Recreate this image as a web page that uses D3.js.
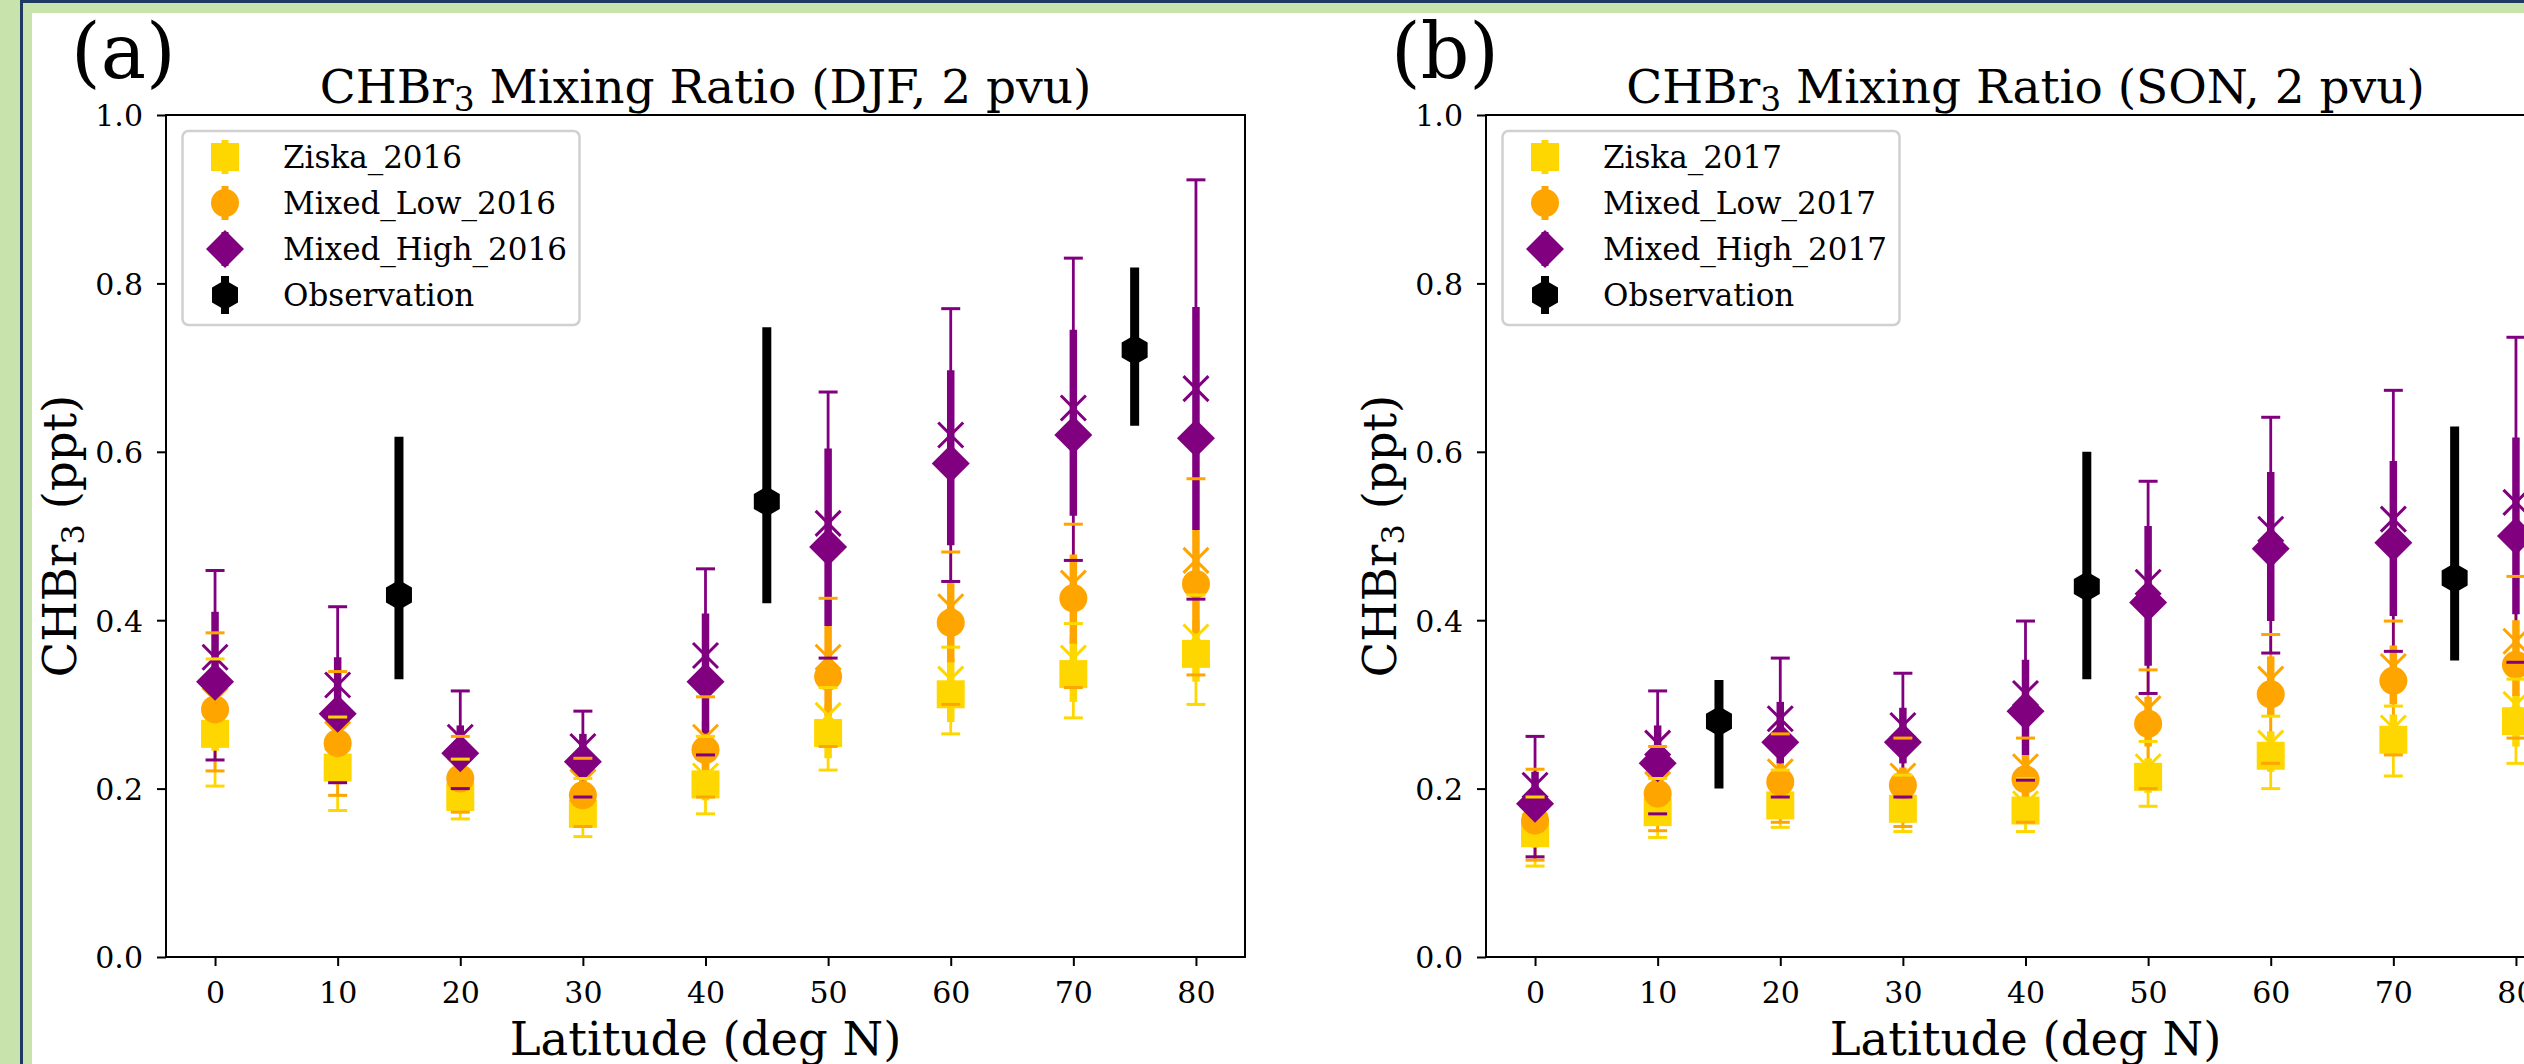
<!DOCTYPE html>
<html>
<head>
<meta charset="utf-8">
<script src="https://cdn.jsdelivr.net/npm/d3@7"></script>
<style>
  html, body { margin: 0; padding: 0; background: #ffffff; overflow: hidden; }
  svg { display: block; }
  text { font-family: "DejaVu Serif", serif; fill: #000; }
</style>
</head>
<body>
<script>
// ---------------- DATA ----------------
const latitudes = [0, 10, 20, 30, 40, 50, 60, 70, 80];
const obsLatitudes = [15, 45, 75];
const xTickValues = [0, 10, 20, 30, 40, 50, 60, 70, 80];
const yTickValues = [0.0, 0.2, 0.4, 0.6, 0.8, 1.0];
const xDomain = [-4, 84];
const yDomain = [0, 1];

const panelLabels = ["(a)", "(b)"];
const panelSeasons = ["DJF", "SON"];
const legendNamesA = ["Ziska_2016", "Mixed_Low_2016", "Mixed_High_2016", "Observation"];
const legendNamesB = ["Ziska_2017", "Mixed_Low_2017", "Mixed_High_2017", "Observation"];

// Panel (a) DJF -- Ziska_2016
const ziskaA_median = [0.265, 0.225, 0.190, 0.170, 0.205, 0.266, 0.312, 0.336, 0.360];
const ziskaA_mean   = [0.275, 0.233, 0.198, 0.178, 0.215, 0.287, 0.330, 0.355, 0.380];
const ziskaA_q1     = [0.245, 0.205, 0.176, 0.156, 0.186, 0.236, 0.279, 0.303, 0.327];
const ziskaA_q3     = [0.290, 0.250, 0.212, 0.192, 0.232, 0.300, 0.355, 0.380, 0.400];
const ziskaA_min    = [0.203, 0.174, 0.164, 0.143, 0.170, 0.222, 0.265, 0.284, 0.300];
const ziskaA_max    = [0.354, 0.285, 0.235, 0.212, 0.262, 0.320, 0.368, 0.396, 0.430];
// Panel (a) DJF -- Mixed_Low_2016
const lowA_median = [0.294, 0.254, 0.212, 0.192, 0.246, 0.333, 0.397, 0.426, 0.443];
const lowA_mean   = [0.305, 0.265, 0.222, 0.208, 0.261, 0.356, 0.416, 0.444, 0.471];
const lowA_q1     = [0.262, 0.232, 0.195, 0.176, 0.222, 0.287, 0.350, 0.372, 0.384];
const lowA_q3     = [0.330, 0.295, 0.236, 0.218, 0.280, 0.393, 0.444, 0.478, 0.507];
const lowA_min    = [0.221, 0.192, 0.172, 0.155, 0.190, 0.250, 0.300, 0.320, 0.335];
const lowA_max    = [0.385, 0.339, 0.262, 0.236, 0.309, 0.426, 0.481, 0.514, 0.568];
// Panel (a) DJF -- Mixed_High_2016
const highA_median = [0.327, 0.289, 0.242, 0.232, 0.327, 0.487, 0.586, 0.620, 0.616];
const highA_mean   = [0.356, 0.323, 0.261, 0.250, 0.358, 0.515, 0.620, 0.652, 0.675];
const highA_q1     = [0.290, 0.250, 0.222, 0.212, 0.265, 0.393, 0.489, 0.524, 0.507];
const highA_q3     = [0.410, 0.356, 0.275, 0.265, 0.408, 0.604, 0.697, 0.745, 0.772];
const highA_min    = [0.234, 0.207, 0.200, 0.190, 0.240, 0.355, 0.446, 0.471, 0.425];
const highA_max    = [0.459, 0.416, 0.316, 0.292, 0.461, 0.671, 0.770, 0.830, 0.923];
// Panel (a) DJF -- Observation
const obsA_value = [0.430, 0.541, 0.721];
const obsA_low   = [0.330, 0.420, 0.631];
const obsA_high  = [0.618, 0.748, 0.819];

// Panel (b) SON -- Ziska_2017
const ziskaB_median = [0.147, 0.172, 0.180, 0.176, 0.174, 0.214, 0.239, 0.258, 0.280];
const ziskaB_mean   = [0.156, 0.181, 0.190, 0.186, 0.182, 0.226, 0.254, 0.272, 0.300];
const ziskaB_q1     = [0.130, 0.158, 0.165, 0.160, 0.160, 0.195, 0.220, 0.240, 0.250];
const ziskaB_q3     = [0.165, 0.192, 0.200, 0.196, 0.192, 0.236, 0.268, 0.288, 0.312];
const ziskaB_min    = [0.108, 0.142, 0.154, 0.149, 0.149, 0.179, 0.200, 0.215, 0.230];
const ziskaB_max    = [0.190, 0.212, 0.222, 0.216, 0.212, 0.256, 0.286, 0.298, 0.330];
// Panel (b) SON -- Mixed_Low_2017
const lowB_median = [0.162, 0.194, 0.208, 0.204, 0.211, 0.277, 0.312, 0.328, 0.347];
const lowB_mean   = [0.172, 0.205, 0.220, 0.215, 0.226, 0.295, 0.330, 0.345, 0.375];
const lowB_q1     = [0.145, 0.175, 0.190, 0.185, 0.190, 0.250, 0.285, 0.300, 0.310];
const lowB_q3     = [0.185, 0.215, 0.230, 0.225, 0.240, 0.309, 0.357, 0.370, 0.400];
const lowB_min    = [0.115, 0.150, 0.160, 0.155, 0.160, 0.200, 0.230, 0.240, 0.260];
const lowB_max    = [0.223, 0.250, 0.265, 0.260, 0.260, 0.341, 0.383, 0.399, 0.452];
// Panel (b) SON -- Mixed_High_2017
const highB_median = [0.182, 0.230, 0.255, 0.255, 0.292, 0.421, 0.485, 0.492, 0.500];
const highB_mean   = [0.204, 0.254, 0.283, 0.275, 0.313, 0.445, 0.508, 0.520, 0.540];
const highB_q1     = [0.160, 0.205, 0.230, 0.230, 0.240, 0.346, 0.399, 0.405, 0.407];
const highB_q3     = [0.220, 0.275, 0.303, 0.296, 0.353, 0.512, 0.576, 0.589, 0.617];
const highB_min    = [0.119, 0.170, 0.190, 0.190, 0.210, 0.313, 0.361, 0.363, 0.350];
const highB_max    = [0.262, 0.316, 0.355, 0.337, 0.399, 0.565, 0.641, 0.673, 0.736];
// Panel (b) SON -- Observation
const obsB_value = [0.280, 0.440, 0.450];
const obsB_low   = [0.200, 0.330, 0.352];
const obsB_high  = [0.329, 0.600, 0.630];

// ---------------- STYLE ----------------
const W = 2524, H = 1064;
const colYellow = "#FFD700", colOrange = "#FFA500", colPurple = "#800080", colBlack = "#000000";
const frameGreen = "#c8e4ac", frameNavy = "#1f3864";
const tickFont = 30, legendFont = 31, titleFont = 47, labelFont = 46.5;

const panels = [
  { left: 166, label: panelLabels[0], season: panelSeasons[0], names: legendNamesA,
    series: [
      { color: colYellow, marker: "square",  med: ziskaA_median, mean: ziskaA_mean, q1: ziskaA_q1, q3: ziskaA_q3, lo: ziskaA_min, hi: ziskaA_max },
      { color: colOrange, marker: "circle",  med: lowA_median,  mean: lowA_mean,  q1: lowA_q1,  q3: lowA_q3,  lo: lowA_min,  hi: lowA_max },
      { color: colPurple, marker: "diamond", med: highA_median, mean: highA_mean, q1: highA_q1, q3: highA_q3, lo: highA_min, hi: highA_max }
    ],
    obs: { val: obsA_value, lo: obsA_low, hi: obsA_high } },
  { left: 1486, label: panelLabels[1], season: panelSeasons[1], names: legendNamesB,
    series: [
      { color: colYellow, marker: "square",  med: ziskaB_median, mean: ziskaB_mean, q1: ziskaB_q1, q3: ziskaB_q3, lo: ziskaB_min, hi: ziskaB_max },
      { color: colOrange, marker: "circle",  med: lowB_median,  mean: lowB_mean,  q1: lowB_q1,  q3: lowB_q3,  lo: lowB_min,  hi: lowB_max },
      { color: colPurple, marker: "diamond", med: highB_median, mean: highB_mean, q1: highB_q1, q3: highB_q3, lo: highB_min, hi: highB_max }
    ],
    obs: { val: obsB_value, lo: obsB_low, hi: obsB_high } }
];

const axW = 1079, axTop = 115, axBottom = 957;

function markerPath(type) {
  if (type === "square") { const s = 28; return `M${-s/2},${-s/2}H${s/2}V${s/2}H${-s/2}Z`; }
  if (type === "circle") { return d3.symbol(d3.symbolCircle, Math.PI * 14 * 14)(); }
  if (type === "diamond") { const w = 19, h = 19; return `M0,${-h}L${w},0L0,${h}L${-w},0Z`; }
  if (type === "hexagon") {
    const r = 15, c = Math.cos(Math.PI / 6) * r;
    return `M0,${-r}L${c},${-r/2}L${c},${r/2}L0,${r}L${-c},${r/2}L${-c},${-r/2}Z`;
  }
  if (type === "x") { const s = 12.5; return `M${-s},${-s}L${s},${s}M${s},${-s}L${-s},${s}`; }
}

const svg = d3.select("body").append("svg").attr("width", W).attr("height", H);

// frame
svg.append("rect").attr("x", 0).attr("y", 0).attr("width", W).attr("height", H).attr("fill", frameGreen);
svg.append("rect").attr("x", 20).attr("y", 0).attr("width", W - 20).attr("height", 3).attr("fill", frameNavy);
svg.append("rect").attr("x", 20).attr("y", 0).attr("width", 3).attr("height", H).attr("fill", frameNavy);
svg.append("rect").attr("x", 32).attr("y", 13).attr("width", W - 32).attr("height", H - 13).attr("fill", "#ffffff");

panels.forEach(p => {
  const x = d3.scaleLinear().domain(xDomain).range([p.left, p.left + axW]);
  const y = d3.scaleLinear().domain(yDomain).range([axBottom, axTop]);
  const g = svg.append("g");

  // Axes
  const xAxis = g.append("g").attr("transform", `translate(0,${axBottom})`)
    .call(d3.axisBottom(x).tickValues(xTickValues).tickSize(9).tickSizeOuter(0).tickFormat(d3.format("d")));
  xAxis.select(".domain").remove();
  xAxis.selectAll(".tick line").attr("stroke", "#000").attr("stroke-width", 2);
  xAxis.selectAll(".tick text").attr("y", 46).attr("dy", 0).attr("font-size", tickFont).attr("font-family", "DejaVu Serif");

  const yAxis = g.append("g").attr("transform", `translate(${p.left},0)`)
    .call(d3.axisLeft(y).tickValues(yTickValues).tickSize(9).tickPadding(14).tickSizeOuter(0).tickFormat(d3.format(".1f")));
  yAxis.select(".domain").remove();
  yAxis.selectAll(".tick line").attr("stroke", "#000").attr("stroke-width", 2);
  yAxis.selectAll(".tick text").attr("font-size", tickFont).attr("dy", "0.36em").attr("font-family", "DejaVu Serif");

  // plot layers
  const plot = g.append("g");
  const thinL = plot.append("g"), thickL = plot.append("g"), meanL = plot.append("g"),
        markL = plot.append("g"), capL = plot.append("g"), obsL = plot.append("g");

  p.series.forEach(s => {
    latitudes.forEach((lat, i) => {
      const cx = x(lat);
      thinL.append("line").attr("x1", cx).attr("x2", cx).attr("y1", y(s.lo[i])).attr("y2", y(s.hi[i]))
        .attr("stroke", s.color).attr("stroke-width", 2.8);
      thickL.append("line").attr("x1", cx).attr("x2", cx).attr("y1", y(s.q1[i])).attr("y2", y(s.q3[i]))
        .attr("stroke", s.color).attr("stroke-width", 7.5);
      meanL.append("path").attr("d", markerPath("x")).attr("transform", `translate(${cx},${y(s.mean[i])})`)
        .attr("fill", "none").attr("stroke", s.color).attr("stroke-width", 3);
      markL.append("path").attr("d", markerPath(s.marker)).attr("transform", `translate(${cx},${y(s.med[i])})`)
        .attr("fill", s.color);
      [s.lo[i], s.hi[i]].forEach(v => {
        capL.append("line").attr("x1", cx - 9.5).attr("x2", cx + 9.5).attr("y1", y(v)).attr("y2", y(v))
          .attr("stroke", s.color).attr("stroke-width", 3);
      });
    });
  });

  obsLatitudes.forEach((lat, i) => {
    const cx = x(lat);
    obsL.append("line").attr("x1", cx).attr("x2", cx).attr("y1", y(p.obs.lo[i])).attr("y2", y(p.obs.hi[i]))
      .attr("stroke", colBlack).attr("stroke-width", 9);
    obsL.append("path").attr("d", markerPath("hexagon")).attr("transform", `translate(${cx},${y(p.obs.val[i])})`)
      .attr("fill", colBlack);
  });

  // spines
  g.append("rect").attr("x", p.left).attr("y", axTop).attr("width", axW).attr("height", axBottom - axTop)
    .attr("fill", "none").attr("stroke", "#000").attr("stroke-width", 2);

  // legend
  const lg = g.append("g");
  lg.append("rect").attr("x", p.left + 16.5).attr("y", 131).attr("width", 397).attr("height", 194)
    .attr("rx", 6).attr("fill", "#fff").attr("fill-opacity", 0.85).attr("stroke", "#d0d0d0").attr("stroke-width", 2.5);
  const legendMarkers = ["square", "circle", "diamond", "hexagon"];
  const legendColors = [colYellow, colOrange, colPurple, colBlack];
  const rowY = d3.scaleLinear().domain([0, 3]).range([157, 295]);
  p.names.forEach((name, k) => {
    const ly = rowY(k), lx = p.left + 59;
    if (k === 3) {
      lg.append("line").attr("x1", lx).attr("x2", lx).attr("y1", ly - 19).attr("y2", ly + 19)
        .attr("stroke", legendColors[k]).attr("stroke-width", 8);
    } else {
      lg.append("line").attr("x1", lx).attr("x2", lx).attr("y1", ly - 17).attr("y2", ly + 17)
        .attr("stroke", legendColors[k]).attr("stroke-width", 7);
    }
    lg.append("path").attr("d", markerPath(legendMarkers[k])).attr("transform", `translate(${lx},${ly})`)
      .attr("fill", legendColors[k]);
    lg.append("text").attr("x", p.left + 117).attr("y", ly).attr("dy", "0.36em")
      .attr("font-size", legendFont).text(name);
  });

  // title
  const cxAx = p.left + axW / 2;
  const title = g.append("text").attr("x", cxAx).attr("y", 103).attr("text-anchor", "middle").attr("font-size", titleFont);
  title.append("tspan").text("CHBr");
  title.append("tspan").attr("font-size", titleFont * 0.7).attr("dy", 8).text("3");
  title.append("tspan").attr("dy", -8).text(` Mixing Ratio (${p.season}, 2 pvu)`);

  // panel label
  g.append("text").attr("x", p.left - 95).attr("y", 78).attr("font-size", 76).text(p.label);

  // axis labels
  g.append("text").attr("x", cxAx).attr("y", 1055).attr("text-anchor", "middle").attr("font-size", labelFont)
    .text("Latitude (deg N)");
  const yl = g.append("text").attr("transform", `translate(${p.left - 90},${(axTop + axBottom) / 2}) rotate(-90)`)
    .attr("text-anchor", "middle").attr("font-size", labelFont);
  yl.append("tspan").text("CHBr");
  yl.append("tspan").attr("font-size", labelFont * 0.7).attr("dy", 8).text("3");
  yl.append("tspan").attr("dy", -8).text(" (ppt)");
});
</script>
</body>
</html>
